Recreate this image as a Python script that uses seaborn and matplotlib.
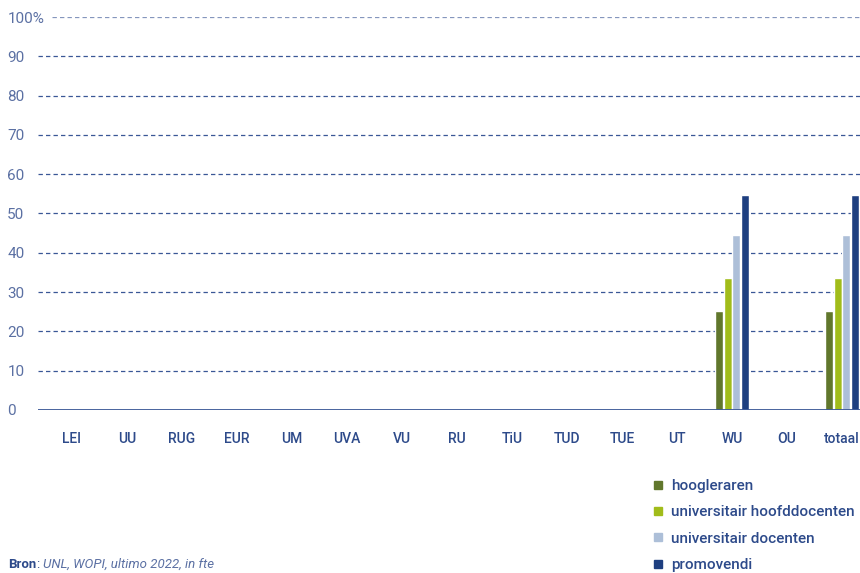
import pandas as pd
import matplotlib.pyplot as plt
import seaborn as sns
from matplotlib.lines import Line2D

# data
universiteiten = ['LEI', 'UU', 'RUG', 'EUR', 'UM', 'UVA', 'VU', 'RU', 'TiU',
                  'TUD', 'TUE', 'UT', 'WU', 'OU', 'totaal']
functies = ['hoogleraren', 'universitair hoofddocenten',
            'universitair docenten', 'promovendi']
hoogleraren = [0, 0, 0, 0, 0, 0, 0, 0, 0, 0, 0, 0, 25.3, 0, 25.3]
uhd = [0, 0, 0, 0, 0, 0, 0, 0, 0, 0, 0, 0, 33.6, 0, 33.6]
ud = [0, 0, 0, 0, 0, 0, 0, 0, 0, 0, 0, 0, 44.6, 0, 44.6]
promovendi = [0, 0, 0, 0, 0, 0, 0, 0, 0, 0, 0, 0, 54.6, 0, 54.6]
kleuren = ['#61772c', '#a1bc1a', '#adbfd8', '#1e3f80']
tekst = '#2d4a8a'
licht = '#5b70a3'

rows = []
for f, vals in zip(functies, [hoogleraren, uhd, ud, promovendi]):
    for u, v in zip(universiteiten, vals):
        rows.append({'universiteit': u, 'functie': f, 'aandeel': v})
df = pd.DataFrame(rows)

sns.set_style('white')
plt.rcParams['font.family'] = ['Roboto', 'DejaVu Sans']

fig = plt.figure(figsize=(8.6, 5.73), dpi=100)
ax = fig.add_axes([0.044, 0.2845, 0.956, 0.6858])

sns.barplot(data=df, x='universiteit', y='aandeel', hue='functie',
            hue_order=functies, palette=kleuren, width=0.63, gap=0.08,
            saturation=1, legend=False, ax=ax)

ax.set_ylim(0, 100)
ax.set_xlim(-0.62, 14.33)
ax.set_yticks(range(0, 101, 10))
ax.set_yticklabels([str(t) for t in range(0, 100, 10)] + ['100%'])
for t in range(10, 100, 10):
    ax.axhline(t, color='#3a5796', lw=0.9, ls=(0, (3.5, 2.5)), zorder=0)
ax.axhline(100, xmin=0.017, color='#8596bd', lw=0.9, ls=(0, (3.5, 2.5)), zorder=0)
ax.axhline(0, color='#3a5796', lw=1.3, zorder=3)

for s in ax.spines.values():
    s.set_visible(False)
ax.set_xlabel('')
ax.set_ylabel('')
ax.tick_params(axis='y', length=0, pad=22, labelsize=11, labelcolor=licht)
for lbl in ax.get_yticklabels():
    lbl.set_horizontalalignment('left')
ax.tick_params(axis='x', length=0, pad=16, labelsize=10, labelcolor=tekst)
for lbl in ax.get_xticklabels():
    lbl.set_fontweight('medium')

handles = [Line2D([], [], marker='s', ls='', color=c, markersize=6) for c in kleuren]
fig.legend(handles, functies, loc='upper left', bbox_to_anchor=(0.745, 0.177),
           frameon=False, handletextpad=0.3, labelspacing=0.8,
           prop={'size': 11, 'weight': 'medium'}, labelcolor=tekst,
           borderpad=0, handlelength=1.2)

# bronvermelding
bron = fig.text(0.01, 0.004, 'Bron', color=tekst, fontsize=9.5,
                fontweight='bold', va='bottom')
dp = ax.annotate(': ', xy=(1, 0), xycoords=bron, va='bottom', color=tekst,
                 fontsize=9.5, annotation_clip=False)
ax.annotate('UNL, WOPI, ultimo 2022, in fte', xy=(1, 0), xycoords=dp,
            va='bottom', color=licht, fontsize=9.5, style='italic',
            annotation_clip=False)

fig.savefig('out.png', dpi=100)
